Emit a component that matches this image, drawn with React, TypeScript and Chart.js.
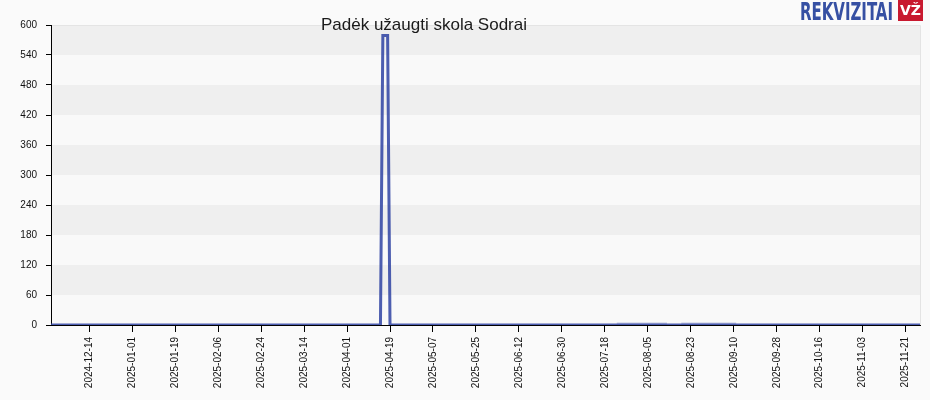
import React, { useEffect, useRef } from 'react';
import { Chart, registerables } from 'chart.js';

Chart.register(...registerables);

// Debt series (change points; value is 0 between them)
const debtDates = ['2024-11-28', '2025-04-15', '2025-04-16', '2025-04-18', '2025-04-19', '2025-11-27'];
const debtValues = [0, 0, 579, 579, 0, 0];

// Faint small values seen in summer
const minorDates = ['2025-07-23', '2025-08-13', '2025-08-14', '2025-08-18', '2025-08-19', '2025-09-11'];
const minorValues: (number | null)[] = [3, 3, null, null, 3, 3];

const xTickLabels = [
  '2024-12-14', '2025-01-01', '2025-01-19', '2025-02-06', '2025-02-24', '2025-03-14',
  '2025-04-01', '2025-04-19', '2025-05-07', '2025-05-25', '2025-06-12', '2025-06-30',
  '2025-07-18', '2025-08-05', '2025-08-23', '2025-09-10', '2025-09-28', '2025-10-16',
  '2025-11-03', '2025-11-21',
];
const xStart = '2024-11-28';
const xEnd = '2025-11-27';
const yMax = 600;
const yStep = 60;

const title = 'Padėk užaugti skola Sodrai';

const dayNum = (s: string) => {
  const [y, m, d] = s.split('-').map(Number);
  return Date.UTC(y, m - 1, d) / 86400000;
};
const dayLabel = new Map(xTickLabels.map((l) => [dayNum(l), l]));

const bandsPlugin = {
  id: 'bands',
  beforeDraw(chart: any) {
    const { ctx, chartArea: a, scales } = chart;
    const y = scales.y;
    ctx.save();
    ctx.fillStyle = '#fafafa';
    ctx.fillRect(0, 0, chart.width, chart.height);
    for (let v = 0; v < yMax; v += yStep) {
      const idx = v / yStep;
      const top = y.getPixelForValue(v + yStep);
      const bot = y.getPixelForValue(v);
      ctx.fillStyle = idx % 2 === 1 ? '#efefef' : '#f9f9f9';
      ctx.fillRect(a.left, top, a.right - a.left, bot - top);
    }
    ctx.strokeStyle = '#e4e4e4';
    ctx.lineWidth = 1;
    ctx.beginPath();
    ctx.moveTo(a.left, a.top + 0.5);
    ctx.lineTo(a.right + 0.5, a.top + 0.5);
    ctx.lineTo(a.right + 0.5, a.bottom);
    ctx.stroke();
    ctx.restore();
  },
  afterDraw(chart: any) {
    const { ctx } = chart;
    ctx.save();
    ctx.font = 'bold 25px "DejaVu Sans Condensed", "DejaVu Sans", sans-serif';
    ctx.textBaseline = 'alphabetic';
    ctx.fillStyle = '#3650a3';
    const txt = 'REKVIZITAI';
    const w = ctx.measureText(txt).width;
    ctx.translate(800, 20);
    ctx.scale(93 / w, 1);
    ctx.fillText(txt, 0, 0);
    ctx.restore();
    ctx.save();
    ctx.fillStyle = '#c8192f';
    ctx.fillRect(898, 0, 25, 21);
    ctx.fillStyle = '#ffffff';
    ctx.font = 'bold 14px "DejaVu Sans", sans-serif';
    ctx.textAlign = 'center';
    ctx.textBaseline = 'middle';
    ctx.fillText('VŽ', 910.5, 11);
    ctx.restore();
  },
};

export default function App() {
  const ref = useRef<HTMLCanvasElement | null>(null);
  useEffect(() => {
    if (!ref.current) return;
    const chart = new Chart(ref.current, {
      type: 'line',
      data: {
        datasets: [
          {
            label: 'Skola',
            data: debtDates.map((d, i) => ({ x: dayNum(d), y: debtValues[i] })),
            borderColor: 'rgba(52,72,165,0.88)',
            borderWidth: 3,
            pointRadius: 0,
            tension: 0,
            order: 1,
          },
          {
            label: 'minor',
            data: minorDates.map((d, i) => ({ x: dayNum(d), y: minorValues[i] })),
            borderColor: 'rgba(150,160,210,0.55)',
            borderWidth: 2,
            pointRadius: 0,
            spanGaps: false,
            order: 2,
          },
        ],
      },
      options: {
        animation: false,
        responsive: false,
        layout: { padding: { top: 25, right: 10, left: 0, bottom: 0 } },
        plugins: { legend: { display: false }, tooltip: { enabled: false }, title: { display: false } },
        scales: {
          x: {
            type: 'linear',
            min: dayNum(xStart),
            max: dayNum(xEnd),
            afterBuildTicks: (scale: any) => {
              scale.ticks = xTickLabels.map((l) => ({ value: dayNum(l) }));
            },
            afterFit: (scale: any) => {
              scale.height = 75;
            },
            grid: { drawOnChartArea: false, color: '#000', tickLength: 7 },
            border: { color: '#000' },
            ticks: {
              autoSkip: false,
              minRotation: 90,
              maxRotation: 90,
              padding: 5,
              color: '#111',
              font: { family: '"Liberation Sans", Arial, sans-serif', size: 10 },
              callback: (v: any) => dayLabel.get(Number(v)) ?? '',
            },
          },
          y: {
            min: 0,
            max: yMax,
            afterFit: (scale: any) => {
              scale.width = 51;
            },
            grid: { drawOnChartArea: false, color: '#000', tickLength: 5 },
            border: { color: '#000' },
            ticks: {
              stepSize: yStep,
              padding: 9,
              color: '#111',
              font: { family: '"Liberation Sans", Arial, sans-serif', size: 10 },
            },
          },
        },
      },
      plugins: [bandsPlugin],
    });
    return () => chart.destroy();
  }, []);

  return (
    <div style={{ position: 'absolute', left: 0, top: 0, width: 930, height: 400, background: '#fafafa' }}>
      <canvas ref={ref} width={930} height={400} style={{ display: 'block' }} />
      <div
        style={{
          position: 'absolute',
          left: 224,
          width: 400,
          top: 16,
          textAlign: 'center',
          fontFamily: '"Liberation Sans", Arial, sans-serif',
          fontSize: 17,
          lineHeight: '18px',
          color: '#1a1a1a',
          pointerEvents: 'none',
        }}
      >
        {title}
      </div>
    </div>
  );
}
